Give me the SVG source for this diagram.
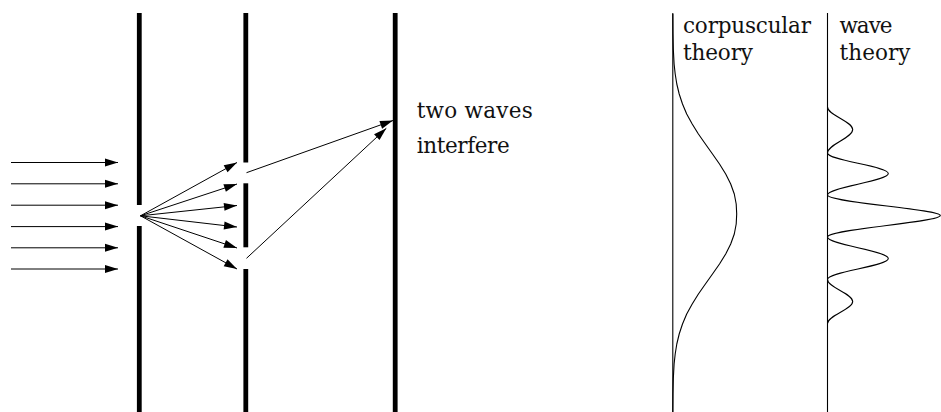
<svg xmlns="http://www.w3.org/2000/svg" width="941" height="412" viewBox="0 0 941 412">
<style>
.wall{stroke:#000;stroke-width:4.8;fill:none}
.ray{stroke:#000;stroke-width:1;fill:none;marker-end:url(#ah)}
.axis{stroke:#000;stroke-width:1.1;fill:none}
.curve{stroke:#000;stroke-width:1.1;fill:none;stroke-linejoin:round}
.lbl{font-family:"DejaVu Serif","Liberation Serif",serif;font-size:21.5px;fill:#111}
</style>
<defs>
<marker id="ah" markerUnits="userSpaceOnUse" markerWidth="14" markerHeight="8" refX="13" refY="4" orient="auto" overflow="visible">
<path d="M0,0 L13,4 L0,8 z" fill="#000"/>
</marker>
</defs>
<rect width="941" height="412" fill="#fff"/>
<g id="barrier1">
<line class="wall" x1="139.3" y1="13" x2="139.3" y2="205"/>
<line class="wall" x1="139.3" y1="226" x2="139.3" y2="412"/>
</g>
<g id="barrier2">
<line class="wall" x1="245.8" y1="13" x2="245.8" y2="162.5"/>
<line class="wall" x1="245.8" y1="183.3" x2="245.8" y2="247.3"/>
<line class="wall" x1="245.8" y1="269" x2="245.8" y2="412"/>
</g>
<g id="screen">
<line class="wall" x1="395.2" y1="13" x2="395.2" y2="412"/>
</g>
<g id="connectors">
<line class="ray" x1="11" y1="162.5" x2="118" y2="162.5"/>
<line class="ray" x1="11" y1="183.8" x2="118" y2="183.8"/>
<line class="ray" x1="11" y1="205.2" x2="118" y2="205.2"/>
<line class="ray" x1="11" y1="226.6" x2="118" y2="226.6"/>
<line class="ray" x1="11" y1="247.8" x2="118" y2="247.8"/>
<line class="ray" x1="11" y1="269" x2="118" y2="269"/>
<line class="ray" x1="140.5" y1="215.8" x2="237" y2="162.5"/>
<line class="ray" x1="140.5" y1="215.8" x2="237" y2="184"/>
<line class="ray" x1="140.5" y1="215.8" x2="237" y2="205.5"/>
<line class="ray" x1="140.5" y1="215.8" x2="237" y2="227"/>
<line class="ray" x1="140.5" y1="215.8" x2="237" y2="248"/>
<line class="ray" x1="140.5" y1="215.8" x2="237" y2="269"/>
<line class="ray" x1="246.5" y1="172.7" x2="393" y2="120.5"/>
<line class="ray" x1="246.5" y1="258.3" x2="386.3" y2="128.3"/>
</g>
<g id="label-interfere">
<text class="lbl" x="416.7" y="118.3" textLength="116" lengthAdjust="spacing">two waves</text>
<text class="lbl" x="416.7" y="153.3" textLength="93" lengthAdjust="spacing">interfere</text>
</g>
<g id="corpuscular">
<line class="axis" x1="672.8" y1="13" x2="672.8" y2="412"/>
<text class="lbl" x="683" y="33" textLength="128" lengthAdjust="spacing">corpuscular</text>
<text class="lbl" x="683" y="59.5" textLength="70" lengthAdjust="spacing">theory</text>
<polyline class="curve" points="672.8,14 672.95,34 673.3,49 674.1,64 675.2,74 676.8,84 679.2,94 682.5,104 686.7,114 692.2,124 698.4,134 705.4,144 712.5,154 719.5,164 725.7,174 730.7,184 734.3,194 736.2,204 736.7,214 736.2,224 734.3,234 730.7,244 725.7,254 719.5,264 712.5,274 705.4,284 698.4,294 692.2,304 686.7,314 682.5,324 679.2,334 676.8,344 675.2,354 674.1,364 673.3,379 672.95,394 672.8,412"/>
</g>
<g id="wave">
<line class="axis" x1="827.5" y1="13" x2="827.5" y2="412"/>
<text class="lbl" x="839.5" y="33" textLength="53" lengthAdjust="spacing">wave</text>
<text class="lbl" x="839.5" y="59.5" textLength="71" lengthAdjust="spacing">theory</text>
<path class="curve" d="M827.5,107 C827.5,115.2 852.7,121.3 852.7,129.5 C852.7,138.1 827.5,144.4 827.5,153 C827.5,160.5 888.3,166 888.3,173.5 C888.3,181.3 827.5,187.2 827.5,195 C827.5,202.5 940.3,209 940.3,215.5 C940.3,222.3 827.5,229.2 827.5,237 C827.5,244.8 888.3,250.7 888.3,258.5 C888.3,266.1 827.5,271.9 827.5,279.5 C827.5,287.5 852.7,293.5 852.7,301.5 C852.7,309.5 827.5,315.5 827.5,323.5"/>
</g>
</svg>
